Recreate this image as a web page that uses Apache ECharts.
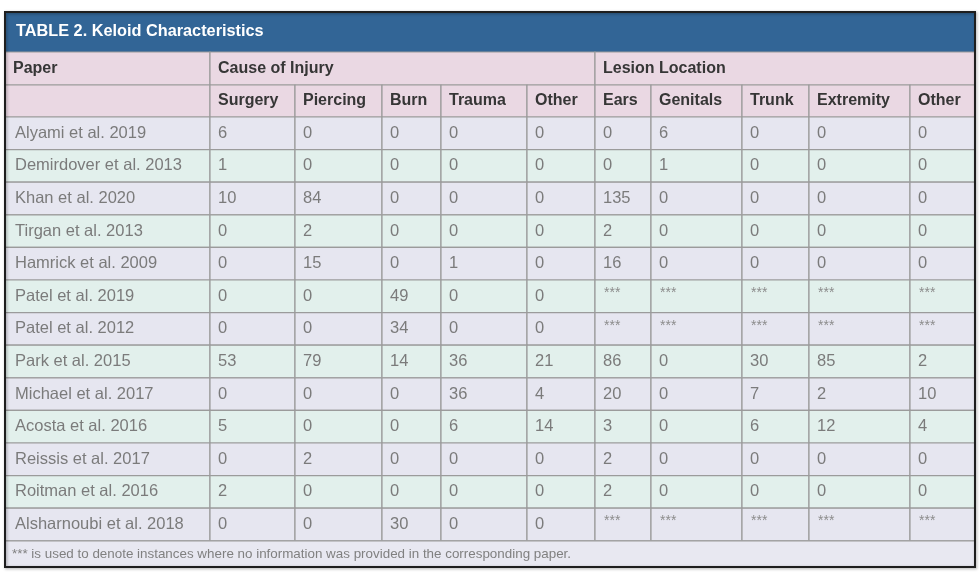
<!DOCTYPE html>
<html>
<head>
<meta charset="utf-8">
<script src="https://cdn.jsdelivr.net/npm/echarts@6/dist/echarts.min.js"></script>
<style>
  html, body { margin: 0; padding: 0; background: #ffffff; }
  #chart { width: 980px; height: 574px; }
</style>
</head>
<body>
<div id="chart"></div>
<script>
// table data
const tableTitle = 'TABLE 2. Keloid Characteristics';
const footnote = '*** is used to denote instances where no information was provided in the corresponding paper.';
const groupHeaders = ['Paper', 'Cause of Injury', 'Lesion Location'];
const causeCols = ['Surgery', 'Piercing', 'Burn', 'Trauma', 'Other'];
const locationCols = ['Ears', 'Genitals', 'Trunk', 'Extremity', 'Other'];

const papers = [
	'Alyami et al. 2019',
	'Demirdover et al. 2013',
	'Khan et al. 2020',
	'Tirgan et al. 2013',
	'Hamrick et al. 2009',
	'Patel et al. 2019',
	'Patel et al. 2012',
	'Park et al. 2015',
	'Michael et al. 2017',
	'Acosta et al. 2016',
	'Reissis et al. 2017',
	'Roitman et al. 2016',
	'Alsharnoubi et al. 2018',
];
const NA = '***';
const surgery = [6, 1, 10, 0, 0, 0, 0, 53, 0, 5, 0, 2, 0];
const piercing = [0, 0, 84, 2, 15, 0, 0, 79, 0, 0, 2, 0, 0];
const burn = [0, 0, 0, 0, 0, 49, 34, 14, 0, 0, 0, 0, 30];
const trauma = [0, 0, 0, 0, 1, 0, 0, 36, 36, 6, 0, 0, 0];
const otherCause = [0, 0, 0, 0, 0, 0, 0, 21, 4, 14, 0, 0, 0];
const ears = [0, 0, 135, 2, 16, NA, NA, 86, 20, 3, 2, 2, NA];
const genitals = [6, 1, 0, 0, 0, NA, NA, 0, 0, 0, 0, 0, NA];
const trunk = [0, 0, 0, 0, 0, NA, NA, 30, 7, 6, 0, 0, NA];
const extremity = [0, 0, 0, 0, 0, NA, NA, 85, 2, 12, 0, 0, NA];
const otherLocation = [0, 0, 0, 0, 0, NA, NA, 2, 10, 4, 0, 0, NA];

const valueColumns = [surgery, piercing, burn, trauma, otherCause, ears, genitals, trunk, extremity, otherLocation];

// layout (pixel units on the hidden value axes)
const colEdges = [5, 210, 295, 382, 441, 527, 595, 651, 742, 809, 910, 975];
const titleTop = 12;
const titleBottom = 52;
const head1Bottom = 85;
const head2Bottom = 117;
const rowHeight = 32.6;
const footerBottom = 567;

const colors = {
	title: '#326596',
	header: '#ead8e3',
	rowA: '#e6e6f0',
	rowB: '#e2f0ec',
	footer: '#e8e8f1',
	grid: '#9b9b9b',
	headText: '#363636',
	cellText: '#7b7b7b',
};

// build the list of cells
const cells = [];
const addCell = (x0, x1, y0, y1, text, kind, fill) => cells.push({ x0, x1, y0, y1, text, kind, fill });

addCell(colEdges[0], colEdges[11], titleTop, titleBottom, tableTitle, 'title', colors.title);
addCell(colEdges[0], colEdges[1], titleBottom, head1Bottom, groupHeaders[0], 'head', colors.header);
addCell(colEdges[1], colEdges[6], titleBottom, head1Bottom, groupHeaders[1], 'head', colors.header);
addCell(colEdges[6], colEdges[11], titleBottom, head1Bottom, groupHeaders[2], 'head', colors.header);
addCell(colEdges[0], colEdges[1], head1Bottom, head2Bottom, '', 'head', colors.header);
causeCols.concat(locationCols).forEach((name, i) => {
	addCell(colEdges[i + 1], colEdges[i + 2], head1Bottom, head2Bottom, name, 'head', colors.header);
});
papers.forEach((paper, r) => {
	const y0 = head2Bottom + r * rowHeight;
	const y1 = y0 + rowHeight;
	const fill = r % 2 === 0 ? colors.rowA : colors.rowB;
	addCell(colEdges[0], colEdges[1], y0, y1, paper, 'cell', fill);
	valueColumns.forEach((col, c) => {
		const v = col[r];
		addCell(colEdges[c + 1], colEdges[c + 2], y0, y1, String(v), v === NA ? 'na' : 'cell', fill);
	});
});
const footTop = head2Bottom + papers.length * rowHeight;
addCell(colEdges[0], colEdges[11], footTop, footerBottom, footnote, 'foot', colors.footer);
addCell(colEdges[0], colEdges[11], titleTop, footerBottom, '', 'frame', 'none');

const chart = echarts.init(document.getElementById('chart'), null, { renderer: 'canvas' });

const FONT = '"Liberation Sans", Arial, sans-serif';
const textStyles = {
	title: { font: 'bold 16.3px ' + FONT, fill: '#ffffff', pad: 11 },
	head: { font: 'bold 16px ' + FONT, fill: colors.headText, pad: 8 },
	cell: { font: '16.5px ' + FONT, fill: colors.cellText, pad: 10 },
	na: { font: '14px ' + FONT, fill: '#8c8c8c', pad: 9, dy: -3 },
	foot: { font: '13.4px ' + FONT, fill: '#808080', pad: 7 },
};

function renderItem(params, api) {
	const c = cells[params.dataIndex];
	const p0 = api.coord([c.x0, c.y0]);
	const p1 = api.coord([c.x1, c.y1]);
	if (c.kind === 'frame') {
		return {
			type: 'rect',
			shape: { x: p0[0], y: p0[1], width: p1[0] - p0[0], height: p1[1] - p0[1] },
			style: {
				fill: 'none',
				stroke: '#1e1e1e',
				lineWidth: 2,
				shadowBlur: 3,
				shadowColor: 'rgba(0,0,0,0.35)',
				shadowOffsetX: 1,
				shadowOffsetY: 1,
			},
			z2: 10,
		};
	}
	const ts = textStyles[c.kind];
	// numeric cells start a bit closer to the line than the paper names
	const pad = c.kind === 'cell' && c.x0 > colEdges[0] ? 8 : ts.pad;
	return {
		type: 'group',
		children: [
			{
				type: 'rect',
				shape: { x: p0[0], y: p0[1], width: p1[0] - p0[0], height: p1[1] - p0[1] },
				style: {
					fill: c.fill,
					stroke: c.kind === 'title' ? c.fill : colors.grid,
					lineWidth: 1.2,
				},
			},
			{
				type: 'text',
				style: {
					text: c.text,
					x: p0[0] + pad,
					y: (p0[1] + p1[1]) / 2 + (ts.dy || 0),
					verticalAlign: 'middle',
					align: 'left',
					font: ts.font,
					fill: ts.fill,
				},
				z2: 5,
			},
		],
	};
}

chart.setOption({
	backgroundColor: '#ffffff',
	animation: false,
	grid: { left: 0, top: 0, width: 980, height: 574 },
	xAxis: { type: 'value', min: 0, max: 980, show: false },
	yAxis: { type: 'value', min: 0, max: 574, inverse: true, show: false },
	series: [
		{
			type: 'custom',
			renderItem,
			data: cells.map(c => [c.x0, c.y0, c.x1, c.y1]),
			encode: { x: [0, 2], y: [1, 3] },
			clip: false,
		},
	],
});
</script>
</body>
</html>
